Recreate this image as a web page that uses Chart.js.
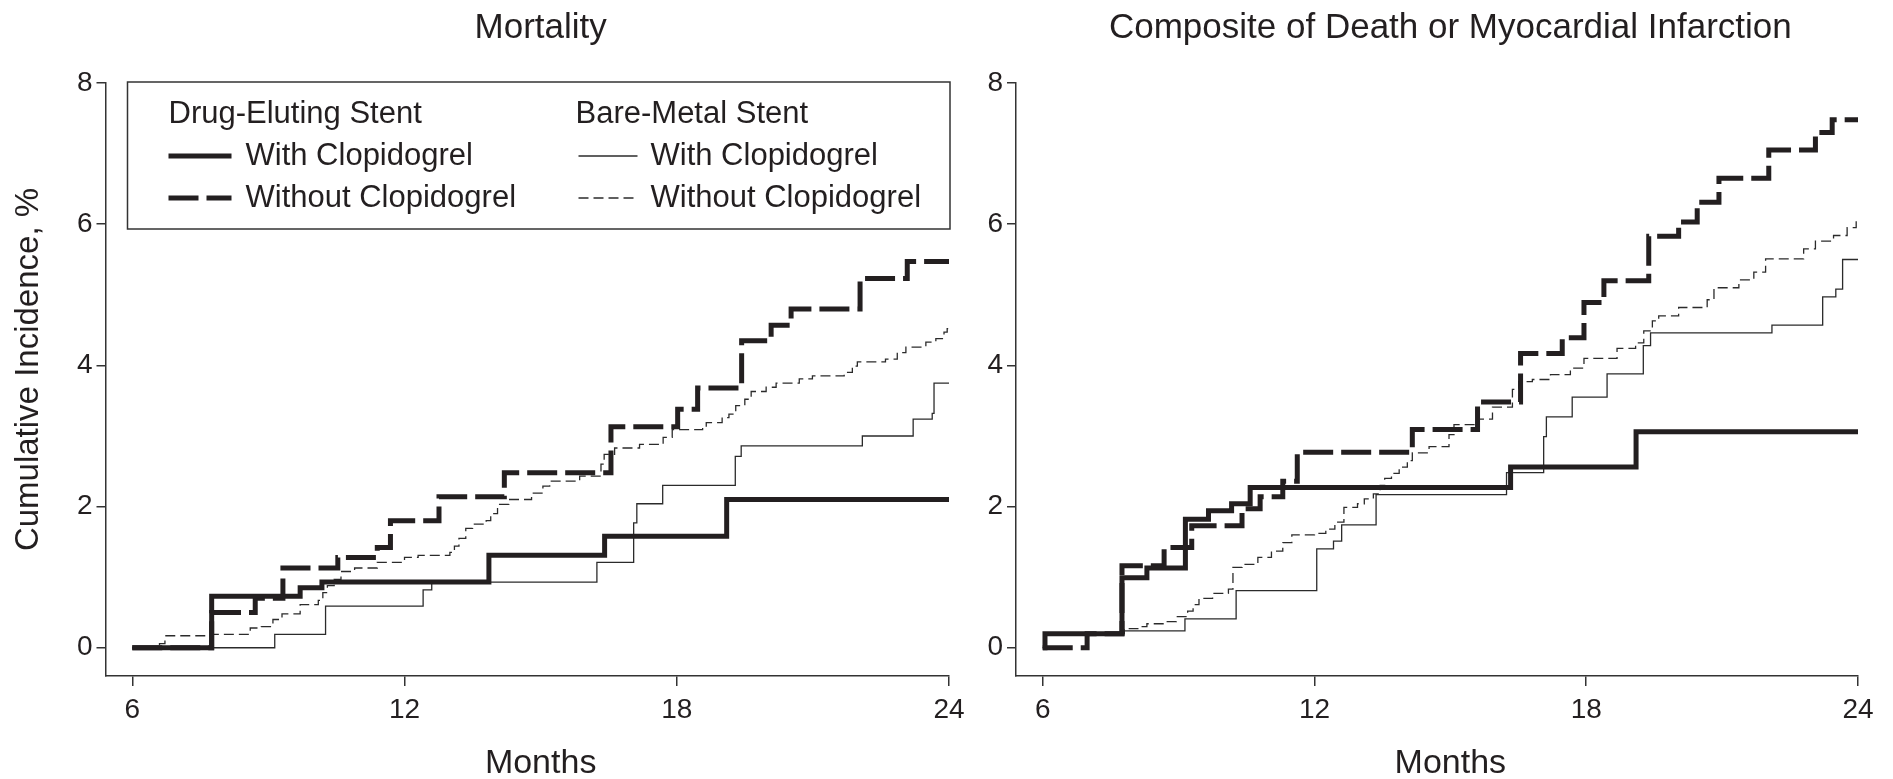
<!DOCTYPE html>
<html>
<head>
<meta charset="utf-8">
<script src="https://cdn.jsdelivr.net/npm/chart.js@4.4.1/dist/chart.umd.min.js"></script>
<style>
  html, body { margin: 0; padding: 0; background: #ffffff; }
  #wrap { position: relative; width: 1893px; height: 779px; overflow: hidden; background: #ffffff; }
  canvas { position: absolute; top: 0; }
  #c1 { left: 0; }
  #c2 { left: 975px; }
</style>
</head>
<body>
<div id="wrap">
  <canvas id="c1" width="975" height="779"></canvas>
  <canvas id="c2" width="918" height="779"></canvas>
</div>
<script>
// ---------------- DATA (months, cumulative incidence %) ----------------
const monthTicks = [6, 12, 18, 24];
const incidenceTicks = [0, 2, 4, 6, 8];

const panelTitles = ['Mortality', 'Composite of Death or Myocardial Infarction'];
const xAxisTitle = 'Months';
const yAxisTitle = 'Cumulative Incidence, %';
const groupHeaders = ['Drug-Eluting Stent', 'Bare-Metal Stent'];
const seriesLabels = ['With Clopidogrel', 'Without Clopidogrel'];

// Mortality
const mortDesWith = [[6,0],[7.75,0.73],[9.7,0.85],[10.18,0.93],[13.86,1.31],[16.41,1.58],[19.1,2.1],[24,2.1]];
const mortDesWithout = [[6,0],[7.75,0.5],[8.71,0.7],[9.32,1.13],[10.53,1.28],[11.4,1.42],[11.69,1.8],[12.76,2.14],[14.2,2.48],[16.55,3.13],[18.02,3.38],[18.46,3.68],[19.43,4.35],[20.08,4.57],[20.52,4.8],[22.04,5.23],[23.08,5.47],[24,5.47]];
const mortBmsWith = [[6,0],[9.14,0.19],[10.26,0.59],[12.41,0.82],[12.6,0.93],[16.24,1.21],[17.05,1.77],[17.12,2.04],[17.69,2.3],[19.29,2.71],[19.42,2.86],[22.09,3.0],[23.21,3.24],[23.63,3.32],[23.67,3.75],[24,3.75]];
const mortBmsWithout = [[6,0],[6.6,0.06],[6.72,0.17],[7.75,0.19],[8.6,0.28],[8.84,0.3],[9.1,0.4],[9.3,0.48],[9.7,0.61],[10.1,0.67],[10.2,0.78],[10.3,0.88],[10.45,0.97],[10.6,1.08],[10.9,1.13],[11.4,1.21],[12.0,1.28],[12.3,1.31],[13.0,1.35],[13.1,1.44],[13.2,1.55],[13.35,1.69],[13.5,1.75],[13.8,1.8],[13.9,1.9],[14.05,2.03],[14.3,2.1],[14.8,2.19],[15.05,2.29],[15.2,2.36],[15.86,2.43],[16.33,2.6],[16.4,2.74],[16.63,2.83],[17.18,2.88],[17.7,2.98],[17.9,3.09],[18.57,3.12],[18.65,3.19],[19.0,3.26],[19.15,3.31],[19.3,3.43],[19.5,3.52],[19.64,3.63],[19.97,3.69],[20.19,3.75],[20.7,3.81],[20.99,3.85],[21.69,3.9],[21.87,3.99],[21.98,4.05],[22.6,4.09],[22.86,4.18],[23.05,4.26],[23.49,4.33],[23.71,4.38],[23.89,4.47],[23.96,4.52],[24,4.52]];

// Composite of death or myocardial infarction
const compDesWith = [[6,0],[6.05,0.2],[7.75,0.99],[8.3,1.13],[9.15,1.82],[9.66,1.94],[10.17,2.04],[10.58,2.27],[16.33,2.56],[19.1,3.06],[24,3.06]];
const compDesWithout = [[6,0],[6.98,0.2],[7.75,1.16],[8.68,1.42],[9.29,1.73],[10.4,1.97],[10.8,2.14],[11.3,2.36],[11.62,2.77],[14.16,3.09],[15.6,3.48],[16.55,4.17],[17.47,4.39],[17.95,4.89],[18.39,5.2],[19.38,5.83],[20.04,6.03],[20.45,6.31],[20.93,6.65],[22.03,7.05],[23.06,7.3],[23.43,7.48],[24,7.48]];
const compBmsWith = [[6,0],[6.05,0.2],[7.8,0.24],[9.14,0.41],[10.27,0.81],[12.05,1.4],[12.42,1.51],[12.6,1.74],[13.36,2.17],[16.24,2.48],[17.06,2.99],[17.12,3.27],[17.69,3.55],[18.46,3.88],[19.26,4.28],[19.42,4.46],[22.1,4.57],[23.22,4.97],[23.51,5.08],[23.66,5.5],[24,5.5]];
const compBmsWithout = [[6,0],[6.05,0.2],[7.8,0.27],[8.1,0.3],[8.3,0.34],[8.7,0.37],[8.95,0.44],[9.2,0.52],[9.32,0.61],[9.45,0.7],[9.75,0.77],[10.1,0.83],[10.2,1.14],[10.4,1.18],[10.75,1.28],[11.05,1.37],[11.3,1.49],[11.5,1.6],[12.0,1.62],[12.25,1.68],[12.45,1.78],[12.65,1.99],[12.95,2.04],[13.1,2.11],[13.3,2.18],[13.45,2.3],[13.55,2.4],[13.7,2.47],[13.87,2.56],[14.05,2.65],[14.16,2.76],[14.53,2.85],[14.97,3.02],[15.08,3.16],[15.63,3.24],[15.93,3.41],[16.37,3.66],[16.51,3.77],[16.81,3.8],[17.21,3.87],[17.65,3.96],[17.95,4.1],[18.68,4.24],[19.09,4.32],[19.27,4.49],[19.46,4.63],[19.6,4.7],[20.04,4.82],[20.67,4.93],[20.82,5.1],[21.37,5.21],[21.7,5.32],[21.96,5.51],[22.8,5.65],[23.06,5.76],[23.46,5.84],[23.76,5.95],[23.96,6.06],[24,6.06]];

// ---------------- STYLE ----------------
const FONT = "'Liberation Sans', Arial, Helvetica, sans-serif";
const INK = '#231f20';
const AXIS = '#333333';

const styleDesWith    = { borderColor: INK, borderWidth: 5, borderDash: [] };
const styleDesWithout = { borderColor: INK, borderWidth: 5, borderDash: [30, 8] };
const styleBmsWith    = { borderColor: '#2b2b2b', borderWidth: 1.3, borderDash: [] };
const styleBmsWithout = { borderColor: '#2b2b2b', borderWidth: 1.3, borderDash: [10, 5] };

function toXY(pairs) { return pairs.map(p => ({ x: p[0], y: p[1] })); }

function makeDataset(label, pairs, style) {
  return Object.assign({
    label: label,
    data: toXY(pairs),
    stepped: 'before',
    pointRadius: 0,
    pointHoverRadius: 0,
    fill: false,
    borderCapStyle: 'butt',
    borderJoinStyle: 'miter',
    tension: 0
  }, style);
}

// ---------------- PLUGINS ----------------
const panelText = {
  id: 'panelText',
  afterDraw(chart, args, opts) {
    const ctx = chart.ctx;
    const xs = chart.scales.x, ys = chart.scales.y;
    const cx = xs.getPixelForValue((monthTicks[0] + monthTicks[monthTicks.length - 1]) / 2);
    ctx.save();
    ctx.fillStyle = INK;
    ctx.textAlign = 'center';
    ctx.textBaseline = 'alphabetic';
    ctx.font = '35px ' + FONT;
    ctx.fillText(opts.title, cx, chart.chartArea.top - 45);
    ctx.font = '34px ' + FONT;
    ctx.fillText(xAxisTitle, cx, chart.height - 6);
    if (opts.yTitle) {
      ctx.font = '33px ' + FONT;
      ctx.translate(29, (ys.top + ys.bottom) / 2 - 10);
      ctx.rotate(-Math.PI / 2);
      ctx.textBaseline = 'middle';
      ctx.fillText(opts.yTitle, 0, 0);
    }
    ctx.restore();
  }
};

const stentLegend = {
  id: 'stentLegend',
  afterDraw(chart, args, opts) {
    if (!opts.show) return;
    const ctx = chart.ctx;
    const ca = chart.chartArea;
    const boxL = ca.left + 22, boxT = ca.top - 1, boxR = ca.right + 1, boxB = ca.top + 146;
    ctx.save();
    ctx.fillStyle = '#ffffff';
    ctx.fillRect(boxL, boxT, boxR - boxL, boxB - boxT);
    ctx.strokeStyle = AXIS;
    ctx.lineWidth = 1.5;
    ctx.strokeRect(boxL, boxT, boxR - boxL, boxB - boxT);

    const rows = [boxT + 32, boxT + 74, boxT + 116];
    const cols = [
      { x: boxL + 41, lineX0: boxL + 41, lineX1: boxL + 104, textX: boxL + 118, ds: [0, 1] },
      { x: boxL + 448, lineX0: boxL + 451, lineX1: boxL + 510, textX: boxL + 523, ds: [2, 3] }
    ];
    ctx.font = '31px ' + FONT;
    ctx.textBaseline = 'middle';
    ctx.textAlign = 'left';
    cols.forEach((c, ci) => {
      ctx.fillStyle = INK;
      ctx.fillText(groupHeaders[ci], c.x, rows[0]);
      c.ds.forEach((di, ri) => {
        const d = chart.data.datasets[di];
        const y = rows[ri + 1];
        ctx.save();
        ctx.strokeStyle = d.borderColor;
        ctx.lineWidth = d.borderWidth;
        ctx.lineCap = 'butt';
        ctx.setLineDash(d.borderDash || []);
        ctx.beginPath();
        ctx.moveTo(c.lineX0, y);
        ctx.lineTo(c.lineX1, y);
        ctx.stroke();
        ctx.restore();
        ctx.fillStyle = INK;
        ctx.fillText(seriesLabels[ri], c.textX, y);
      });
    });
    ctx.restore();
  }
};

// ---------------- CHART FACTORY ----------------
function makeChart(canvasId, seriesSet, title, opts) {
  const datasets = [
    makeDataset('Drug-Eluting Stent, ' + seriesLabels[0], seriesSet[0], styleDesWith),
    makeDataset('Drug-Eluting Stent, ' + seriesLabels[1], seriesSet[1], styleDesWithout),
    makeDataset('Bare-Metal Stent, ' + seriesLabels[0], seriesSet[2], styleBmsWith),
    makeDataset('Bare-Metal Stent, ' + seriesLabels[1], seriesSet[3], styleBmsWithout)
  ];
  return new Chart(document.getElementById(canvasId), {
    type: 'line',
    data: { datasets: datasets },
    options: {
      responsive: false,
      animation: false,
      devicePixelRatio: 1,
      layout: { padding: { top: 83, right: opts.padRight, bottom: 0, left: 0 } },
      plugins: {
        legend: { display: false },
        tooltip: { enabled: false },
        title: { display: false },
        panelText: { title: title, yTitle: opts.yTitle },
        stentLegend: { show: opts.legend }
      },
      scales: {
        x: {
          type: 'linear',
          min: 5.41,
          max: 24,
          afterBuildTicks: s => { s.ticks = monthTicks.map(v => ({ value: v })); },
          afterFit: s => { s.height = 103; },
          grid: { drawOnChartArea: false, drawTicks: true, tickLength: 10, color: AXIS, lineWidth: 1.5 },
          border: { display: true, color: AXIS, width: 1.5 },
          ticks: { font: { family: FONT, size: 28 }, color: INK, padding: 7, maxRotation: 0, autoSkip: false }
        },
        y: {
          type: 'linear',
          min: -0.4,
          max: 8,
          afterBuildTicks: s => { s.ticks = incidenceTicks.map(v => ({ value: v })); },
          afterFit: s => { s.width = opts.yWidth; },
          grid: { drawOnChartArea: false, drawTicks: true, tickLength: 9, color: AXIS, lineWidth: 1.5 },
          border: { display: true, color: AXIS, width: 1.5 },
          ticks: { font: { family: FONT, size: 28 }, color: INK, padding: 4 }
        }
      }
    },
    plugins: [panelText, stentLegend]
  });
}

makeChart('c1', [mortDesWith, mortDesWithout, mortBmsWith, mortBmsWithout], panelTitles[0],
  { padRight: 26, yWidth: 105.5, yTitle: yAxisTitle, legend: true });
makeChart('c2', [compDesWith, compDesWithout, compBmsWith, compBmsWithout], panelTitles[1],
  { padRight: 35, yWidth: 41, yTitle: null, legend: false });
</script>
</body>
</html>
